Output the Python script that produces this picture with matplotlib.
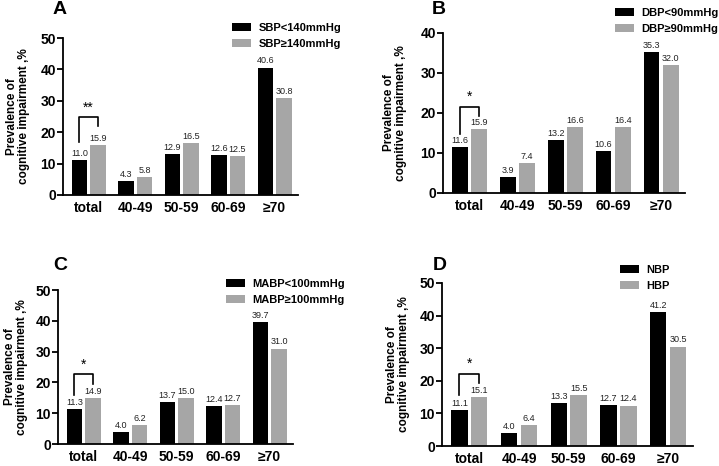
import numpy as np
import matplotlib
matplotlib.use('Agg')
import matplotlib.pyplot as plt

plt.rcParams['font.family'] = ['Liberation Sans', 'DejaVu Sans']

##data
groups = ['total', '40-49', '50-59', '60-69', '≥70']

a_low = [11.0, 4.3, 12.9, 12.6, 40.6]
a_high = [15.9, 5.8, 16.5, 12.5, 30.8]
b_low = [11.6, 3.9, 13.2, 10.6, 35.3]
b_high = [15.9, 7.4, 16.6, 16.4, 32.0]
c_low = [11.3, 4.0, 13.7, 12.4, 39.7]
c_high = [14.9, 6.2, 15.0, 12.7, 31.0]
d_low = [11.1, 4.0, 13.3, 12.7, 41.2]
d_high = [15.1, 6.4, 15.5, 12.4, 30.5]

a_names = ['SBP<140mmHg', 'SBP≥140mmHg']
b_names = ['DBP<90mmHg', 'DBP≥90mmHg']
c_names = ['MABP<100mmHg', 'MABP≥100mmHg']
d_names = ['NBP', 'HBP']

y_max = [50, 40, 50, 50]
stars = ['**', '*', '*', '*']
##bracket: left leg bottom, top, right leg bottom, star level
brackets = [[16.8, 24.8, 21.9, 25.6],
            [14.8, 21.6, 19.2, 22.3],
            [15.8, 22.6, 19.4, 23.6],
            [15.6, 22.1, 19.2, 23.0]]

W, H = 719, 466
fig = plt.figure(figsize=(W/100, H/100), dpi=100)

##panel boxes in pixels: left, right, top(y of max), bottom(y of 0)
boxes = [(63, 298, 38, 195), (443, 685, 33, 193), (58, 293, 290, 444), (442, 693, 283, 446)]
legpos = [(232, 23), (615, 8), (226, 279), (620, 265)]
letters = ['A', 'B', 'C', 'D']
letpos = [(53, 10), (432, 9), (53, 265), (433, 265)]
lab_off = [33, 36, 30, 32]

panels = [(a_low, a_high, a_names), (b_low, b_high, b_names),
          (c_low, c_high, c_names), (d_low, d_high, d_names)]

black = '#000000'
grey = '#a6a6a6'
x = np.arange(len(groups))
bw = 0.33
off = 0.2

for i, (lo, hi, names) in enumerate(panels):
    l, r, t, b = boxes[i]
    ax = fig.add_axes([l/W, 1 - b/H, (r-l)/W, (b-t)/H])
    b1 = ax.bar(x - off, lo, bw, color=black, label=names[0])
    b2 = ax.bar(x + off, hi, bw, color=grey, label=names[1])
    for bars, vals in ((b1, lo), (b2, hi)):
        for bar, v in zip(bars, vals):
            ax.annotate('%.1f' % v, (bar.get_x() + bar.get_width()/2, v),
                        xytext=(0, 1.5), textcoords='offset points',
                        ha='center', va='bottom', fontsize=6.5, color='#222222')
    ##significance bracket on "total"
    lb, top, rb, sl = brackets[i]
    ax.plot([x[0]-off, x[0]-off, x[0]+off, x[0]+off], [lb, top, top, rb],
            color='k', lw=1.2)
    ax.text(x[0], sl, stars[i], ha='center', va='bottom', fontsize=10)

    ax.set_xlim(-0.55, 4.5)
    ax.set_ylim(0, y_max[i])
    ax.set_yticks(np.arange(0, y_max[i] + 1, 10))
    ax.set_xticks(x)
    ax.set_xticklabels(groups)
    for s in ['top', 'right']:
        ax.spines[s].set_visible(False)
    for s in ['left', 'bottom']:
        ax.spines[s].set_linewidth(1.3)
    ax.tick_params(axis='y', direction='out', length=4, width=1.3, labelsize=10, pad=1)
    ax.tick_params(axis='x', length=0, labelsize=10, pad=4)
    for lab in ax.get_xticklabels() + ax.get_yticklabels():
        lab.set_fontweight('bold')
    ax.set_ylabel('Prevalence of\ncognitive impairment ,%', fontsize=8.5,
                  fontweight='bold', linespacing=1.0)
    ax.yaxis.set_label_coords(-lab_off[i]/(r-l), 0.5)

    lx, ly = legpos[i]
    ax.legend(loc='upper left', bbox_to_anchor=(lx/W, 1 - ly/H),
              bbox_transform=fig.transFigure, frameon=False, borderpad=0,
              borderaxespad=0, handlelength=1.7, handleheight=0.7,
              handletextpad=0.7, labelspacing=0.5,
              prop={'weight': 'bold', 'size': 8})

    px, py = letpos[i]
    fig.text(px/W, 1 - py/H, letters[i], ha='left', va='center',
             fontsize=14, fontweight='bold')

fig.savefig('out.png', dpi=100)
